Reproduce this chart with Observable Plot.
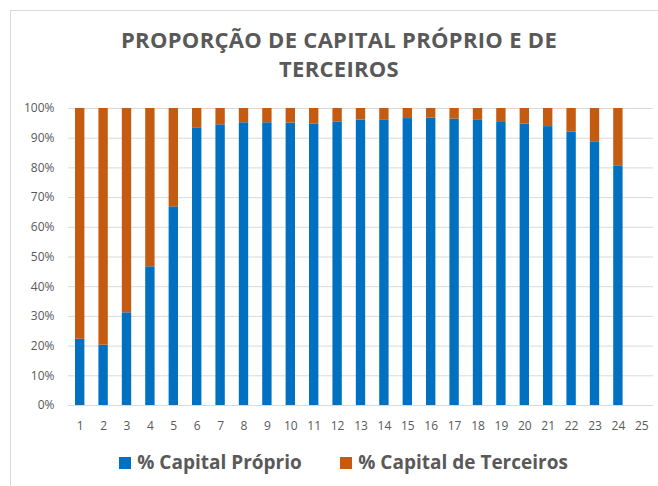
<!DOCTYPE html>
<html><head><meta charset="utf-8">
<script src="https://cdn.jsdelivr.net/npm/d3@7"></script>
<script src="https://cdn.jsdelivr.net/npm/@observablehq/plot@0.6"></script>
<style>
html,body{margin:0;padding:0;background:#fff;}
body{width:658px;height:486px;position:relative;overflow:hidden;font-family:"Open Sans",sans-serif;}
#frame{position:absolute;left:10px;top:10px;width:720px;height:520px;border:1px solid #d9d9d9;box-sizing:border-box;}
#title{position:absolute;left:10px;width:658px;top:25px;text-align:center;font-weight:700;font-size:22px;letter-spacing:0.3px;line-height:29px;color:#595959;}
#chart{position:absolute;left:0;top:0;}
.sw{position:absolute;top:457px;width:12px;height:12px;}
.lt{position:absolute;top:449px;font-size:19px;line-height:26px;font-weight:700;color:#595959;white-space:nowrap;}
</style>
</head><body>
<div id="frame"></div>
<div id="chart"></div>
<div id="title">PROPORÇÃO DE CAPITAL PRÓPRIO E DE<br>TERCEIROS</div>
<div id="legend"></div>
<script>
const categories = d3.range(1, 26);
const seriesNames = ["% Capital Próprio", "% Capital de Terceiros"];
const seriesColors = ["#0070c0", "#c55a11"];
const capitalProprio = [22.3, 20.3, 31.2, 46.7, 66.9, 93.5, 94.5, 95.2, 95.2, 95.1, 94.7, 95.5, 96.1, 96.0, 96.6, 96.8, 96.4, 96.0, 95.3, 94.8, 93.9, 92.0, 88.8, 80.7];
const capitalTerceiros = [77.7, 79.7, 68.8, 53.3, 33.1, 6.5, 5.5, 4.8, 4.8, 4.9, 5.3, 4.5, 3.9, 4.0, 3.4, 3.2, 3.6, 4.0, 4.7, 5.2, 6.1, 8.0, 11.2, 19.3];
const yTicks = [0, 10, 20, 30, 40, 50, 60, 70, 80, 90, 100];

const rows = [];
capitalProprio.forEach((v, i) => rows.push({cat: categories[i], serie: seriesNames[0], value: v}));
capitalTerceiros.forEach((v, i) => rows.push({cat: categories[i], serie: seriesNames[1], value: v}));

const chart = Plot.plot({
  width: 658,
  height: 440,
  marginLeft: 68,
  marginRight: 5,
  marginTop: 108,
  marginBottom: 35,
  style: {fontFamily: "'Open Sans', sans-serif", fontSize: "12px", color: "#595959", background: "transparent"},
  x: {type: "band", domain: categories, paddingInner: 0.6, paddingOuter: 0.3, round: false, label: null},
  y: {domain: [0, 100], label: null},
  color: {domain: seriesNames, range: seriesColors},
  marks: [
    Plot.ruleY(yTicks, {stroke: "#d9d9d9", strokeWidth: 1}),
    Plot.barY(rows, {x: "cat", y: "value", fill: "serie", order: seriesNames}),
    Plot.axisY(yTicks, {tickSize: 0, tickPadding: 14, tickFormat: d => d + "%", label: null, fill: "#595959"}),
    Plot.axisX({tickSize: 0, tickPadding: 16, label: null, fill: "#595959"})
  ]
});
document.getElementById("chart").appendChild(chart);

const legend = document.getElementById("legend");
const swLeft = [119.3, 340];
const txtLeft = [137.3, 358.3];
seriesNames.forEach((s, i) => {
  const sw = document.createElement("div");
  sw.className = "sw"; sw.style.left = swLeft[i] + "px"; sw.style.background = seriesColors[i];
  legend.appendChild(sw);
  const t = document.createElement("div");
  t.className = "lt"; t.style.left = txtLeft[i] + "px"; t.textContent = s;
  legend.appendChild(t);
});
</script>
</body></html>
